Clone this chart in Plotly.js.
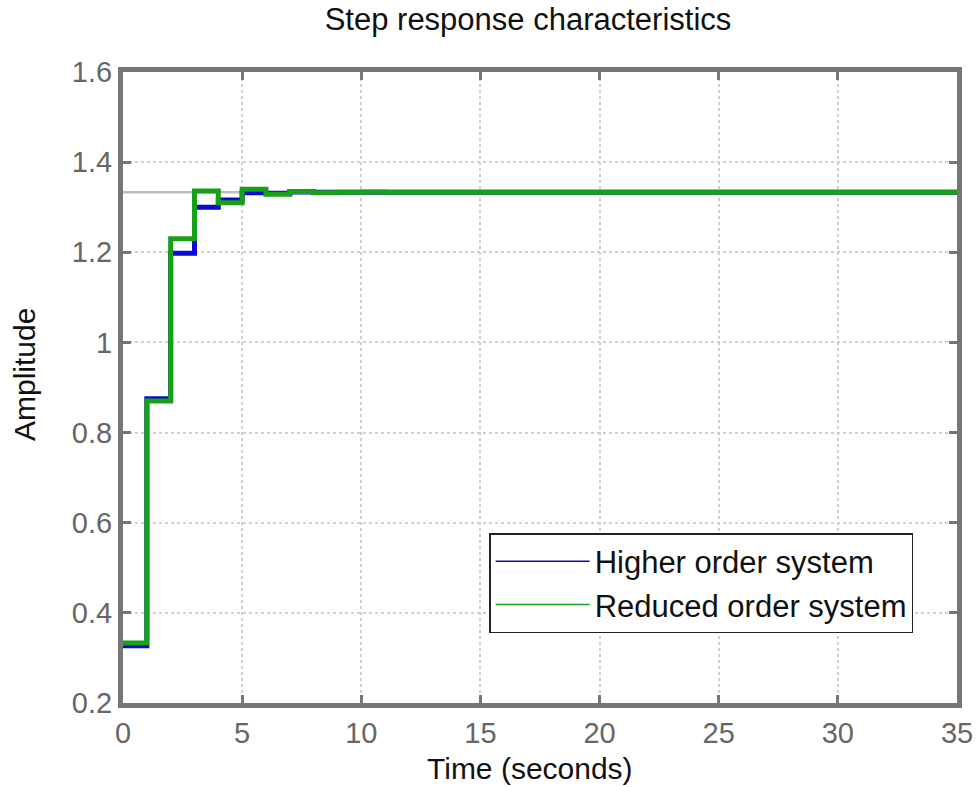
<!DOCTYPE html>
<html>
<head>
<meta charset="utf-8">
<script src="https://cdn.plot.ly/plotly-3.0.1.min.js"></script>
<style>html,body{margin:0;padding:0;background:#fff;}#chart{width:976px;height:787px;}</style>
</head>
<body>
<div id="chart"></div>
<script>
var time = [0,1,2,3,4,5,6,7,8,9,10,11,12,13,14,15,16,17,18,19,20,21,22,23,24,25,26,27,28,29,30,31,32,33,34,35];
var higherOrder = [0.327,0.875,1.198,1.300,1.316,1.332,1.331,1.334,1.333,1.333,1.333,1.333,1.333,1.333,1.333,1.333,1.333,1.333,1.333,1.333,1.333,1.333,1.333,1.333,1.333,1.333,1.333,1.333,1.333,1.333,1.333,1.333,1.333,1.333,1.333,1.333];
var reducedOrder = [0.333,0.870,1.230,1.336,1.310,1.340,1.329,1.335,1.332,1.333,1.334,1.333,1.333,1.333,1.333,1.333,1.333,1.333,1.333,1.333,1.333,1.333,1.333,1.333,1.333,1.333,1.333,1.333,1.333,1.333,1.333,1.333,1.333,1.333,1.333,1.333];
var steadyStateX = [0, 35];
var steadyStateY = [1.333, 1.333];
var seriesNames = ['Higher order system', 'Reduced order system'];
var xTicks = [0,5,10,15,20,25,30,35];
var yTicks = [0.2,0.4,0.6,0.8,1,1.2,1.4,1.6];
var chartTitle = 'Step response characteristics';
var xTitle = 'Time (seconds)';
var yTitle = 'Amplitude';

var blue = '#0a0ad2';
var green = '#18a018';
var axisGray = '#767676';
var font = 'Liberation Sans, Arial, sans-serif';

var traces = [
  {x: steadyStateX, y: steadyStateY, mode: 'lines', line: {color: '#bdbdbd', width: 2.5}, showlegend: false, hoverinfo: 'skip'},
  {x: time, y: higherOrder, mode: 'lines', line: {shape: 'hv', color: blue, width: 5}, showlegend: false, name: seriesNames[0]},
  {x: time, y: reducedOrder, mode: 'lines', line: {shape: 'hv', color: green, width: 5}, showlegend: false, name: seriesNames[1]},
  {x: [null], y: [null], mode: 'lines', line: {color: blue, width: 1.5}, name: seriesNames[0]},
  {x: [null], y: [null], mode: 'lines', line: {color: green, width: 1.5}, name: seriesNames[1]}
];

var axisCommon = {
  showline: true, linewidth: 5, linecolor: axisGray, mirror: 'ticks',
  ticks: 'inside', ticklen: 8, tickwidth: 3, tickcolor: axisGray,
  showgrid: true, gridcolor: '#cfcfcf', gridwidth: 2, griddash: 'dot',
  zeroline: false,
  tickfont: {family: font, size: 29, color: '#666666'}
};

var layout = {
  width: 976, height: 787,
  paper_bgcolor: '#fff', plot_bgcolor: '#fff',
  margin: {l: 123, r: 19, t: 72, b: 84},
  title: {text: chartTitle, xref: 'container', x: 528/976, xanchor: 'center', yref: 'container', y: 1 - 19/787, yanchor: 'middle', font: {family: font, size: 31, color: '#111'}},
  xaxis: Object.assign({}, axisCommon, {
    range: [0, 35], tickvals: xTicks, ticktext: xTicks.map(String)
  }),
  yaxis: Object.assign({}, axisCommon, {
    range: [0.2, 1.6], tickvals: yTicks, ticktext: yTicks.map(String)
  }),
  annotations: [
    {text: xTitle, xref: 'paper', yref: 'paper', x: (530 - 123) / 834, y: (703 - 768) / 631, xanchor: 'center', yanchor: 'middle', showarrow: false, font: {family: font, size: 30, color: '#111'}},
    {text: yTitle, xref: 'paper', yref: 'paper', x: (24 - 123) / 834, y: (703 - 375) / 631, xanchor: 'center', yanchor: 'middle', textangle: -90, showarrow: false, font: {family: font, size: 30, color: '#111'}}
  ],
  legend: {
    x: 0.439, y: 0.2694, xanchor: 'left', yanchor: 'top',
    bgcolor: '#fff', bordercolor: '#222', borderwidth: 1.5,
    font: {family: font, size: 31, color: '#111'},
    itemwidth: 94, tracegroupgap: 0
  },
  showlegend: true
};

Plotly.newPlot('chart', traces, layout, {displayModeBar: false, staticPlot: true});
</script>
</body>
</html>
